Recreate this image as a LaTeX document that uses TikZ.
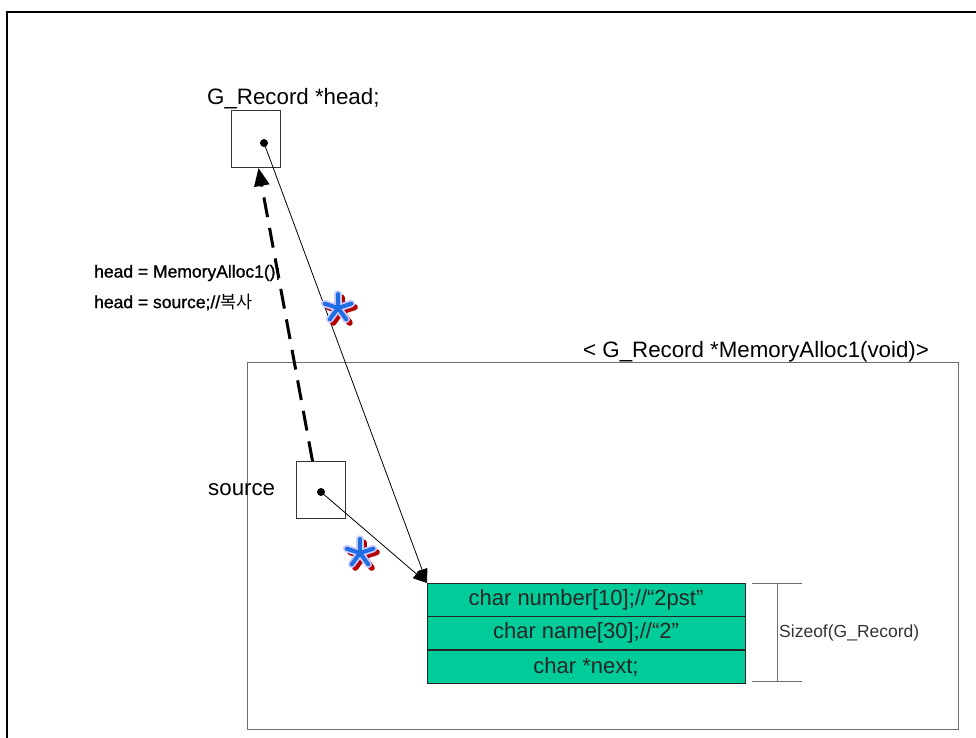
\documentclass[tikz,border=0pt]{standalone}
\usepackage{fontspec}
\setmainfont{Liberation Sans}
\newfontfamily\cjk{Noto Sans CJK KR}
\usetikzlibrary{arrows.meta}
\definecolor{tablegreen}{RGB}{0,204,153}
\definecolor{starblue}{RGB}{30,110,225}
\definecolor{starhalo}{RGB}{200,200,255}
\definecolor{starred}{RGB}{180,0,0}
\definecolor{framegray}{RGB}{110,110,110}
\tikzset{
  varbox/.style={draw=black!80, line width=0.8pt, minimum width=49pt, minimum height=57pt, inner sep=0pt},
  dot/.style={circle, fill=black, inner sep=0pt, minimum size=8pt},
  rowbox/.style={draw=black!85, fill=tablegreen, line width=0.8pt, minimum width=318pt, minimum height=33pt, inner sep=0pt, font=\fontsize{22}{24}\selectfont, text=black!85},
  bigtext/.style={font=\fontsize{22.3}{26}\selectfont, inner sep=0pt},
  smalltext/.style={font=\fontsize{17.5}{20}\selectfont, inner sep=0pt, anchor=west},
  boldlabel/.style={smalltext, font=\fontsize{17.5}{20}\selectfont\addfontfeature{FakeBold=1}},
  ptr/.style={line width=0.8pt, -{Triangle[length=14pt,width=11pt]}},
}
\newcommand{\myast}[1]{%
  \begin{scope}[shift={#1}]
    \foreach \a in {90,162,234,306,18} {\draw[starred, line width=6pt, line cap=round] (3.5,3.5) -- ++(\a:-14);}
    \foreach \a in {90,162,234,306,18} {\draw[starhalo, line width=7.5pt, line cap=round] (0,0) -- ++(\a:-14);}
    \foreach \a in {90,162,234,306,18} {\draw[starblue, line width=4pt, line cap=round] (0,0) -- ++(\a:-14);}
  \end{scope}}
\begin{document}
\begin{tikzpicture}[x=1pt,y=-1pt]
\useasboundingbox (0,0) rectangle (976,738);
% outer frame
\draw[line width=2pt] (7,738) -- (7,12) -- (976,12);
% function box
\draw[framegray, line width=1pt] (247,362) rectangle (958,729);
\node[bigtext, anchor=west] (ftitle) at (583,352) {< G\_Record *MemoryAlloc1(void)>};
% head
\node[bigtext, anchor=west] (headlbl) at (207,99) {G\_Record *head;};
\node[varbox] (head) at (255.5,138.5) {};
\node[dot] (hdot) at (264,143) {};
% source
\node[bigtext, anchor=west] (srclbl) at (208,490) {source};
\node[varbox] (source) at (320.5,489.5) {};
\node[dot] (sdot) at (321,492) {};
% table
\node[rowbox] (r1) at (586,599.5) {char number[10];//“2pst”};
\node[rowbox, anchor=north] (r2) at (r1.south) {char name[30];//“2”};
\node[rowbox, anchor=north] (r3) at (r2.south) {char *next;};
\coordinate (corner) at (427,583);
% size bracket
\coordinate (bt1) at (752,583);
\coordinate (bt2) at (802,583);
\coordinate (bb1) at (752,681);
\coordinate (bb2) at (802,681);
\coordinate (bm1) at (777,583);
\coordinate (bm2) at (777,681);
\draw[framegray, line width=0.9pt] (bt1) -- (bt2) (bb1) -- (bb2) (bm1) -- (bm2);
\node[smalltext, text=black!80] (sizeof) at (779,633) {Sizeof(G\_Record)};
% connectors
\coordinate (dstart) at (312.5,461);
\coordinate (dend) at (258.5,168);
\draw[line width=3pt, dash pattern=on 20pt off 11pt, -{Triangle[length=18pt,width=15pt]}] (dstart) -- (dend);
\draw[ptr] (hdot.center) -- (corner);
\draw[ptr] (sdot.center) -- (corner);
% labels
\node[boldlabel] (l1) at (94,273) {head = MemoryAlloc1();};
\node[boldlabel] (l2) at (94,302) {head = source;//{\cjk 복사}};
% asterisks
\myast{(338,308)}
\myast{(360,553)}
\end{tikzpicture}
\end{document}
